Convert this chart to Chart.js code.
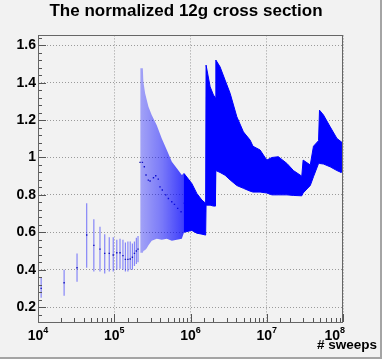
<!DOCTYPE html>
<html>
<head>
<meta charset="utf-8">
<script src="https://cdn.jsdelivr.net/npm/chart.js@4.4.1/dist/chart.umd.min.js"></script>
<style>
  html, body { margin: 0; padding: 0; background: #f2f2f2; overflow: hidden; }
  canvas { display: block; }
</style>
</head>
<body>
<canvas id="xsecChart" width="382" height="359"></canvas>
<script>
// isolated points at low statistics: sweeps, value, error bar ends
const sparseX  = [1.1e4, 2.2e4, 3.25e4, 4.35e4, 5.4e4, 6.5e4, 7.5e4, 8.6e4, 9.7e4, 1.08e5,
                  1.19e5, 1.30e5, 1.40e5, 1.51e5, 1.62e5, 1.73e5, 1.84e5, 1.95e5, 2.05e5];
const sparseY  = [0.30, 0.33, 0.41, 0.585, 0.53, 0.51, 0.487, 0.487, 0.478, 0.49,
                  0.49, 0.475, 0.455, 0.455, 0.457, 0.466, 0.487, 0.50, 0.51];
const sparseLo = [0.25, 0.26, 0.335, 0.41, 0.39, 0.39, 0.38, 0.39, 0.39, 0.40,
                  0.405, 0.40, 0.39, 0.39, 0.40, 0.40, 0.42, 0.43, 0.44];
const sparseHi = [0.36, 0.40, 0.487, 0.755, 0.67, 0.63, 0.589, 0.573, 0.573, 0.56,
                  0.565, 0.56, 0.545, 0.55, 0.55, 0.54, 0.55, 0.57, 0.58];

// first dense stretch (thin bars, lighter look)
const lightX  = [2.2e5, 2.37e5, 2.41e5, 2.54e5, 2.67e5, 2.81e5, 3.1e5, 3.61e5, 4.2e5, 4.89e5, 5.69e5, 6.61e5, 7.69e5, 8.24e5];
const lightLo = [0.49, 0.49, 0.50, 0.505, 0.515, 0.53, 0.555, 0.565, 0.56, 0.565, 0.555, 0.56, 0.565, 0.60];
const lightHi = [1.477, 1.477, 1.405, 1.343, 1.307, 1.271, 1.227, 1.173, 1.102, 1.04, 0.977, 0.942, 0.906, 0.915];

// dense part, bars overlap into a solid band
const darkX  = [8.2e5, 1.04e6, 1.21e6, 1.41e6, 1.58e6, 1.6e6, 1.81e6, 2.0e6, 2.12e6, 2.15e6,
                2.44e6, 2.84e6, 3.31e6, 4.05e6, 4.94e6, 6.05e6, 6.6e6, 8.18e6, 1.0e7, 1.17e7,
                1.42e7, 1.84e7, 2.24e7, 2.88e7, 3.0e7, 3.72e7, 4.1e7, 4.78e7, 4.92e7, 5.55e7,
                6.79e7, 8.32e7, 9.46e7];
const darkLo = [0.60, 0.61, 0.595, 0.59, 0.585, 0.745, 0.745, 0.74, 0.74, 0.93,
                0.92, 0.905, 0.88, 0.85, 0.835, 0.82, 0.815, 0.815, 0.81, 0.80,
                0.80, 0.80, 0.797, 0.795, 0.81, 0.85, 0.897, 0.968, 0.968, 0.965,
                0.95, 0.93, 0.92];
const darkHi = [0.915, 0.861, 0.808, 0.772, 0.755, 1.494, 1.378, 1.334, 1.32, 1.521,
                1.485, 1.414, 1.343, 1.218, 1.137, 1.093, 1.06, 1.04, 0.986, 1.0,
                1.004, 0.968, 0.93, 0.90, 0.986, 0.96, 1.06, 1.09, 1.253, 1.227,
                1.164, 1.102, 1.084];

// central values still visible inside the band
const midX = [2.18e5, 2.34e5, 2.48e5, 2.61e5, 2.8e5, 2.95e5, 3.27e5, 3.5e5, 3.78e5, 3.98e5, 4.27e5,
              4.73e5, 5.13e5, 5.68e5, 6.16e5, 6.79e5, 7.52e5, 8.31e5, 9.86e5, 1.21e6, 1.48e6];
const midY = [0.974, 0.974, 0.95, 0.906, 0.879, 0.874, 0.892, 0.902, 0.884, 0.843, 0.826,
              0.80, 0.781, 0.763, 0.749, 0.728, 0.71, 0.755, 0.728, 0.696, 0.674];

// x tick labels: 10^n
const xTickExps = [4, 5, 6, 7, 8];

const FONT = '"Liberation Sans", Arial, Helvetica, sans-serif';

const toPts = (xs, ys) => xs.map((x, i) => ({ x: x, y: ys[i] }));

// closed outline: upper edge left to right, lower edge back
function bandShape(xs, lo, hi) {
    const pts = toPts(xs, hi);
    for (let i = xs.length - 1; i >= 0; i--) pts.push({ x: xs[i], y: lo[i] });
    return pts;
}

const barPts = [];
sparseX.forEach((x, i) => {
    barPts.push({ x: x, y: sparseLo[i] }, { x: x, y: sparseHi[i] }, { x: x, y: null });
});

const isDecade = v => Math.abs(Math.log10(v) - Math.round(Math.log10(v))) < 1e-9;

function lightFill(context) {
    const chart = context.chart;
    if (!chart.chartArea) return 'rgba(0,0,255,0.5)';
    const x0 = chart.scales.x.getPixelForValue(lightX[0]);
    const x1 = chart.scales.x.getPixelForValue(lightX[lightX.length - 1]);
    const g = chart.ctx.createLinearGradient(x0, 0, x1, 0);
    g.addColorStop(0, 'rgba(0,0,255,0.33)');
    g.addColorStop(0.5, 'rgba(0,0,255,0.5)');
    g.addColorStop(1, 'rgba(0,0,255,0.75)');
    return g;
}

// ROOT-like frame, inner tick marks, 10^n labels and canvas edge
const rootFrame = {
    id: 'rootFrame',
    beforeDraw(chart) {
        const c = chart.ctx;
        c.save();
        c.fillStyle = '#f2f2f2';
        c.fillRect(0, 0, chart.width, chart.height);
        c.restore();
    },
    afterDraw(chart) {
        const c = chart.ctx;
        const a = chart.chartArea;
        const x = chart.scales.x, y = chart.scales.y;
        c.save();
        c.strokeStyle = '#555';
        c.lineWidth = 1;
        c.beginPath();
        // y ticks every 0.04, major every 0.2
        for (let k = 3; k <= 41; k++) {
            const py = Math.round(y.getPixelForValue(k * 0.04)) + 0.5;
            const len = k % 5 === 0 ? 8 : 4;
            c.moveTo(a.left, py);
            c.lineTo(a.left + len, py);
        }
        // x ticks from the log scale
        x.ticks.forEach(t => {
            const px = Math.round(x.getPixelForValue(t.value)) + 0.5;
            const len = isDecade(t.value) ? 8 : 4;
            c.moveTo(px, a.bottom);
            c.lineTo(px, a.bottom - len);
        });
        c.stroke();

        c.strokeStyle = '#666';
        c.strokeRect(Math.round(a.left) + 0.5, Math.round(a.top) + 0.5,
                     Math.round(a.right - a.left) - 1, Math.round(a.bottom - a.top));

        // x labels
        c.fillStyle = '#000';
        c.textBaseline = 'alphabetic';
        c.textAlign = 'left';
        xTickExps.forEach(e => {
            const px = x.getPixelForValue(Math.pow(10, e));
            c.font = 'bold 14px ' + FONT;
            const wBase = c.measureText('10').width;
            c.font = 'bold 9px ' + FONT;
            const wExp = c.measureText(String(e)).width;
            let left = px - (wBase + wExp) / 2;
            if (left + wBase + wExp > a.right + 2) left = a.right + 2 - wBase - wExp;
            c.font = 'bold 14px ' + FONT;
            c.fillText('10', left, 340);
            c.font = 'bold 9px ' + FONT;
            c.fillText(String(e), left + wBase, 333);
        });

        // axis title
        c.font = 'bold 13.5px ' + FONT;
        c.textAlign = 'right';
        c.fillText('# sweeps', 377, 349);

        // canvas edge
        c.fillStyle = '#a4a4a4';
        c.fillRect(chart.width - 2, 0, 2, chart.height);
        c.fillRect(0, chart.height - 2, chart.width, 2);
        c.restore();
    }
};

new Chart(document.getElementById('xsecChart'), {
    type: 'line',
    data: {
        datasets: [
            { data: bandShape(lightX, lightLo, lightHi), borderWidth: 0, pointRadius: 0,
              fill: 'shape', backgroundColor: lightFill },
            { data: bandShape(darkX, darkLo, darkHi), borderColor: '#0000ff', borderWidth: 1, pointRadius: 0,
              fill: 'shape', backgroundColor: '#0000ff' },
            { data: barPts, borderColor: 'rgba(0,0,255,0.45)', borderWidth: 1.2, pointRadius: 0, spanGaps: false, fill: false },
            { data: toPts(sparseX, sparseY), showLine: false, pointStyle: 'rect', pointRadius: 1,
              backgroundColor: '#2020a0', borderWidth: 0 },
            { data: toPts(midX, midY), showLine: false, pointStyle: 'rect', pointRadius: 1,
              backgroundColor: '#1818a8', borderWidth: 0 }
        ]
    },
    options: {
        responsive: false,
        animation: false,
        layout: { padding: { left: 0, right: 10, top: 0, bottom: 0 } },
        plugins: {
            legend: { display: false },
            tooltip: { enabled: false },
            title: {
                display: true,
                text: 'The normalized 12g cross section',
                color: '#000',
                font: { family: FONT, size: 17, weight: 'bold', lineHeight: 1.2 },
                padding: { top: 1, bottom: 14 }
            }
        },
        scales: {
            x: {
                type: 'logarithmic',
                min: 1e4,
                max: 1e8,
                ticks: { display: false },
                grid: {
                    drawTicks: false,
                    color: ctx => (ctx.tick && isDecade(ctx.tick.value)) ? '#9a9a9a' : 'rgba(0,0,0,0)'
                },
                border: { display: false, dash: [1, 2] },
                afterFit: s => { s.height = 37; }
            },
            y: {
                type: 'linear',
                min: 0.12,
                max: 1.653,
                ticks: {
                    stepSize: 0.2,
                    includeBounds: false,
                    color: '#000',
                    padding: 2,
                    font: { family: FONT, size: 14, weight: 'bold' },
                    callback: v => String(Number(v.toFixed(2)))
                },
                grid: { drawTicks: false, color: '#9a9a9a' },
                border: { display: false, dash: [1, 2] },
                afterFit: s => { s.width = 38; }
            },
            yRight: {
                type: 'linear',
                position: 'right',
                display: true,
                ticks: { display: false },
                grid: { display: false, drawTicks: false },
                border: { display: false },
                afterFit: s => { s.width = 29; }
            }
        }
    },
    plugins: [rootFrame]
});
</script>
</body>
</html>
